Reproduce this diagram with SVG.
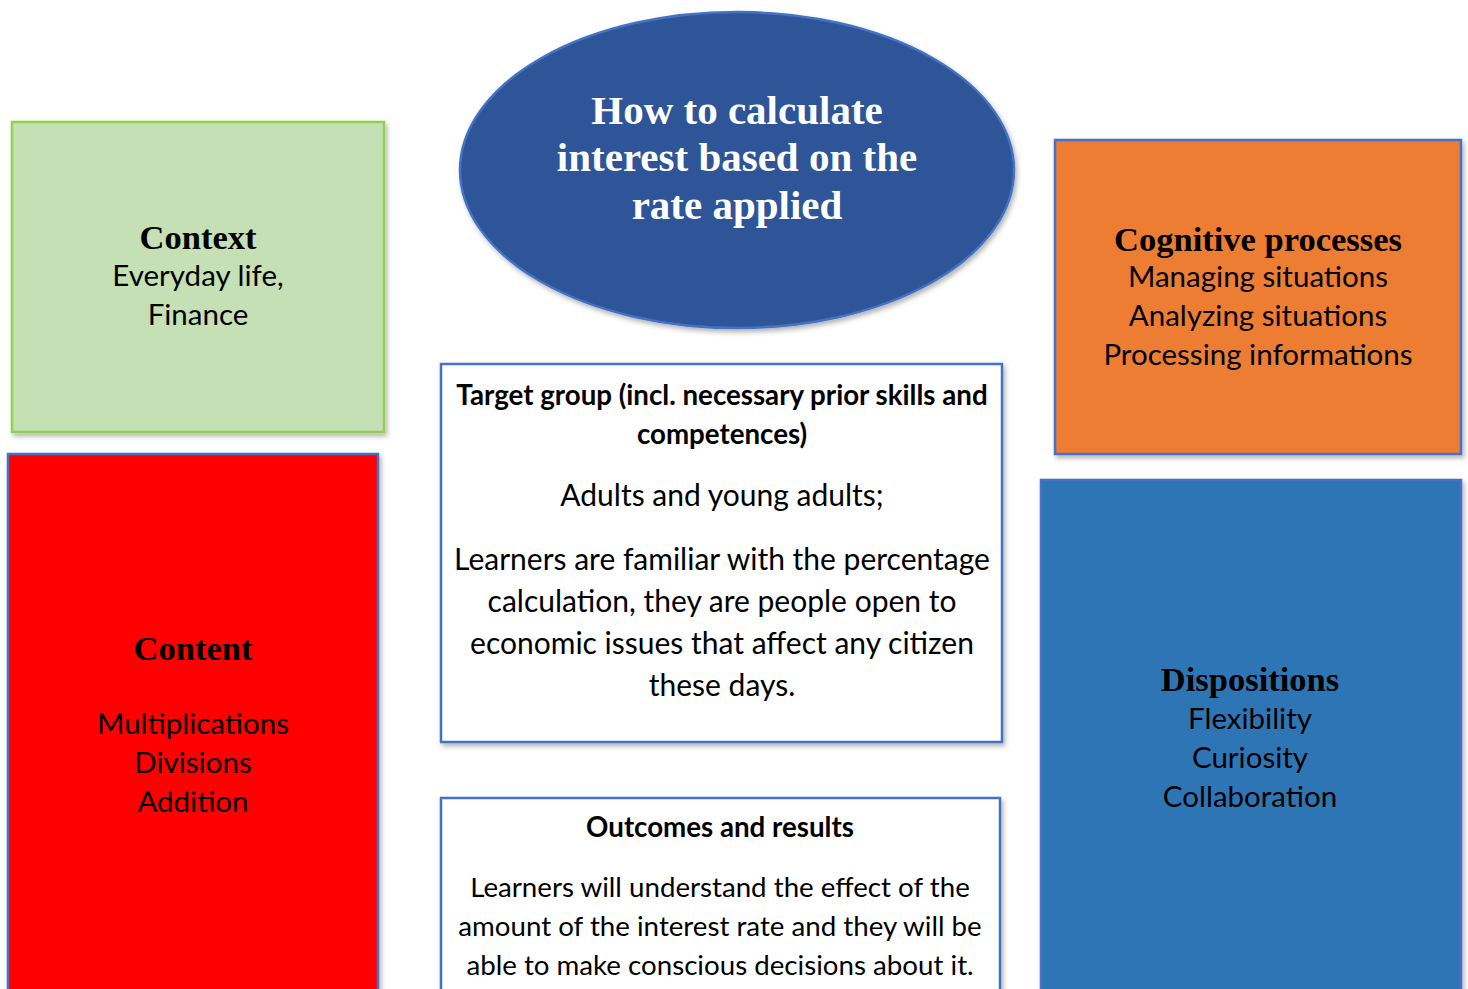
<svg xmlns="http://www.w3.org/2000/svg" width="1468" height="989" viewBox="0 0 1468 989">
  <defs>
    <filter id="shadow" x="-5%" y="-5%" width="112%" height="115%">
      <feDropShadow dx="2" dy="3" stdDeviation="2.5" flood-color="#000" flood-opacity="0.3"/>
    </filter>
    <style>
      .box { stroke: #4472C4; stroke-width: 2.5; filter: url(#shadow); }
      .title { font-family: "Liberation Serif", "DejaVu Serif", serif; font-weight: bold; fill: #000; text-anchor: middle; font-size: 34.5px; }
      .body { font-family: Lato, "Liberation Sans", sans-serif; fill: #000; text-anchor: middle; font-size: 29.5px; }
      .bodyb { font-family: Lato, "Liberation Sans", sans-serif; font-weight: bold; fill: #000; text-anchor: middle; font-size: 27.7px; }
      .head { font-family: "Liberation Serif", "DejaVu Serif", serif; font-weight: bold; fill: #fff; text-anchor: middle; font-size: 41px; }
    </style>
  </defs>
  <rect width="1468" height="989" fill="#fff"/>

  <!-- Context -->
  <g id="context">
    <rect class="box" x="12" y="122" width="372" height="310" fill="#C5E0B4" style="stroke:#92D050"/>
    <text class="title" x="198" y="249">Context</text>
    <text class="body" x="198" y="286">Everyday life,</text>
    <text class="body" x="198" y="325">Finance</text>
  </g>

  <!-- Content -->
  <g id="content">
    <rect class="box" x="8" y="454" width="370" height="560" fill="#FF0000"/>
    <text class="title" x="193" y="660">Content</text>
    <text class="body" x="193" y="734">Multiplications</text>
    <text class="body" x="193" y="773">Divisions</text>
    <text class="body" x="193" y="812">Addition</text>
  </g>

  <!-- Central topic -->
  <g id="topic">
    <ellipse class="box" cx="737" cy="170" rx="277" ry="158" fill="#2F5597"/>
    <text class="head" x="737" y="124">How to calculate</text>
    <text class="head" x="737" y="171">interest based on the</text>
    <text class="head" x="737" y="219">rate applied</text>
  </g>

  <!-- Cognitive processes -->
  <g id="cognitive">
    <rect class="box" x="1055" y="140" width="406" height="314" fill="#ED7D31"/>
    <text class="title" x="1258" y="251">Cognitive processes</text>
    <text class="body" x="1258" y="287">Managing situations</text>
    <text class="body" x="1258" y="326">Analyzing situations</text>
    <text class="body" x="1258" y="365">Processing informations</text>
  </g>

  <!-- Target group -->
  <g id="target">
    <rect class="box" x="441" y="364" width="561" height="378" fill="#fff"/>
    <text class="bodyb" x="722" y="405">Target group (incl. necessary prior skills and</text>
    <text class="bodyb" x="722" y="444">competences)</text>
    <text class="body" x="722" y="506" style="font-size:30px">Adults and young adults;</text>
    <text class="body" x="722" y="570" style="font-size:30px">Learners are familiar with the percentage</text>
    <text class="body" x="722" y="612" style="font-size:30px">calculation, they are people open to</text>
    <text class="body" x="722" y="654" style="font-size:30px">economic issues that affect any citizen</text>
    <text class="body" x="722" y="696" style="font-size:30px">these days.</text>
  </g>

  <!-- Outcomes -->
  <g id="outcomes">
    <rect class="box" x="441" y="798" width="559" height="220" fill="#fff"/>
    <text class="bodyb" x="720" y="837">Outcomes and results</text>
    <text class="body" x="720" y="897" style="font-size:27.7px">Learners will understand the effect of the</text>
    <text class="body" x="720" y="936" style="font-size:27.7px">amount of the interest rate and they will be</text>
    <text class="body" x="720" y="975" style="font-size:27.7px">able to make conscious decisions about it.</text>
  </g>

  <!-- Dispositions -->
  <g id="dispositions">
    <rect class="box" x="1041" y="480" width="420" height="540" fill="#2E75B6"/>
    <text class="title" x="1250" y="691">Dispositions</text>
    <text class="body" x="1250" y="729">Flexibility</text>
    <text class="body" x="1250" y="768">Curiosity</text>
    <text class="body" x="1250" y="807">Collaboration</text>
  </g>

  <g id="connectors"/>
</svg>
